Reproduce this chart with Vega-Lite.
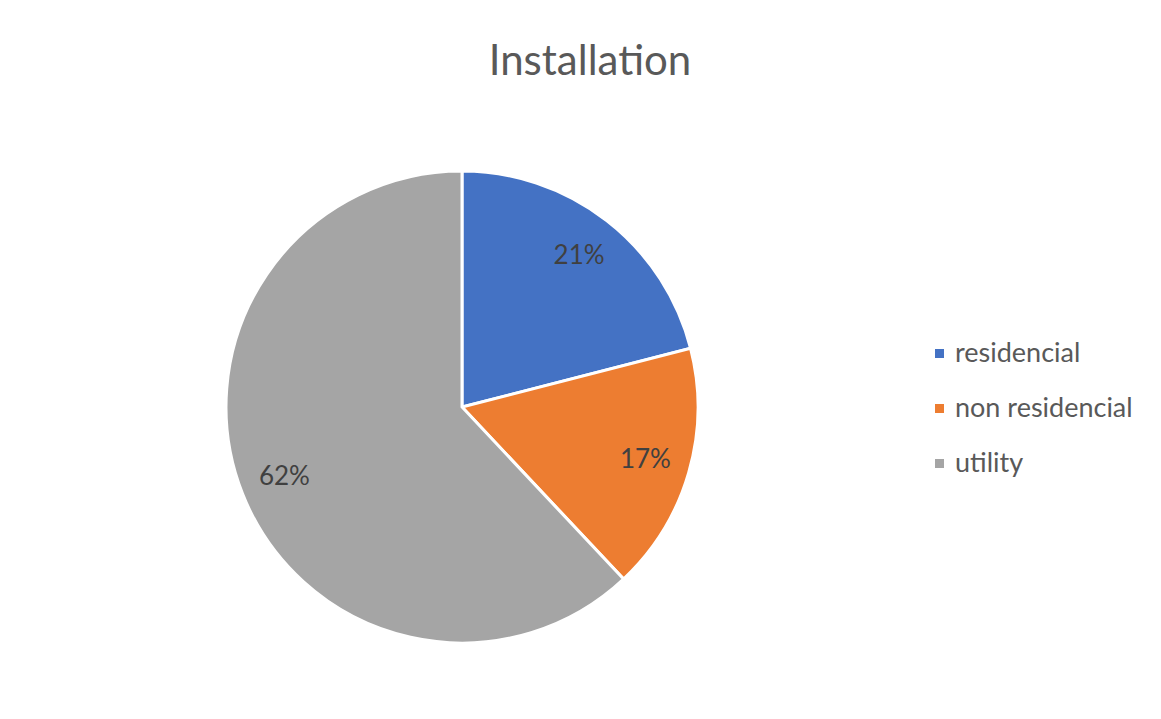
{
  "$schema": "https://vega.github.io/schema/vega-lite/v6.json",
  "autosize": "none",
  "width": 472,
  "height": 472,
  "padding": {"left": 226, "top": 171, "right": 463, "bottom": 76},
  "background": "white",
  "config": {"view": {"stroke": null}, "font": "Lato"},
  "title": {"text": "Installation", "fontSize": 42, "font": "Lato", "fontWeight": "normal", "color": "#595959", "anchor": "middle", "dx": 128, "offset": 48, "baseline": "alphabetic"},
  "data": {"values": [
    {"category": "residencial", "value": 21, "label": "21%"},
    {"category": "non residencial", "value": 17, "label": "17%"},
    {"category": "utility", "value": 62, "label": "62%"}
  ]},
  "encoding": {
    "theta": {"field": "value", "type": "quantitative", "stack": true},
    "order": {"field": "idx", "type": "quantitative"},
    "color": {
      "field": "category", "type": "nominal",
      "scale": {"domain": ["residencial", "non residencial", "utility"], "range": ["#4472C4", "#ED7D31", "#A5A5A5"]},
      "sort": ["residencial", "non residencial", "utility"],
      "legend": {"title": null, "orient": "none", "legendX": 700, "legendY": 169, "padding": 0, "symbolType": "square", "symbolSize": 81, "symbolStrokeWidth": 0, "labelFontSize": 27, "labelFont": "Lato", "labelColor": "#595959", "labelOffset": 2, "rowPadding": 27, "labelLimit": 400}
    }
  },
  "transform": [{"calculate": "indexof(['residencial','non residencial','utility'], datum.category)", "as": "idx"}],
  "layer": [
    {"mark": {"type": "arc", "stroke": "white", "strokeWidth": 3}},
    {"mark": {"type": "text", "radius": 191, "fontSize": 26, "font": "Lato", "color": "#404040"}, "encoding": {"text": {"field": "label"}, "color": {"value": "#404040"}}}
  ]
}
